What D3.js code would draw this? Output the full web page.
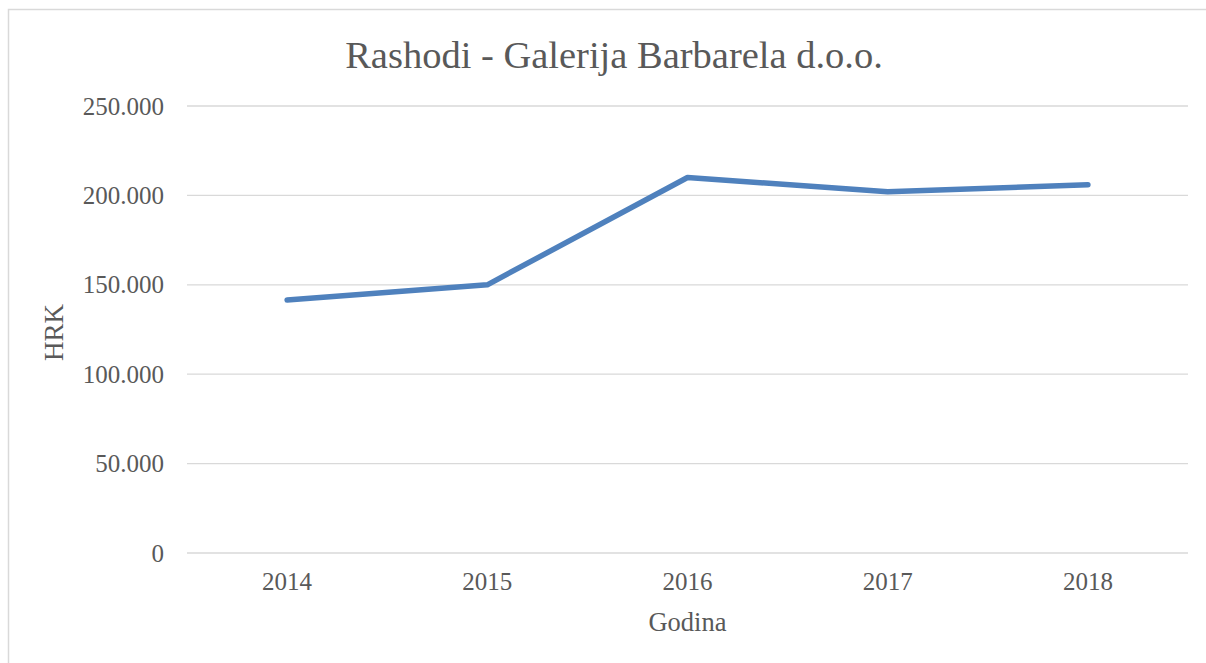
<!DOCTYPE html>
<html>
<head>
<meta charset="utf-8">
<script src="https://cdn.jsdelivr.net/npm/d3@7"></script>
<style>
  body { margin: 0; background: #fff; }
  text { font-family: "Liberation Serif", serif; fill: #595959; }
</style>
</head>
<body>
<svg width="1206" height="663"></svg>
<script>
// data
var years = ["2014", "2015", "2016", "2017", "2018"];
var rashodi = [141500, 150000, 210000, 202000, 206000];
var yTicks = [0, 50000, 100000, 150000, 200000, 250000];

var svg = d3.select("svg");
var margin = {top: 106, right: 18, bottom: 110, left: 187};
var width = 1206 - margin.left - margin.right,
    height = 663 - margin.top - margin.bottom;

// outer chart border (runs off the right/bottom of the picture)
svg.append("rect")
  .attr("x", 8.5).attr("y", 9.5)
  .attr("width", 1212).attr("height", 700)
  .style("fill", "none").style("stroke", "#d9d9d9").style("stroke-width", 1.5);

var x = d3.scaleBand().domain(years).range([0, width]);
var y = d3.scaleLinear().domain([0, 250000]).range([height, 0]);

var g = svg.append("g")
  .attr("transform", "translate(" + margin.left + "," + margin.top + ")");

//gridlines
g.selectAll(".grid")
  .data(yTicks)
  .enter().append("line")
  .attr("class", "grid")
  .attr("x1", 0).attr("x2", width)
  .attr("y1", function (d) { return y(d); })
  .attr("y2", function (d) { return y(d); })
  .style("stroke", "#d9d9d9").style("stroke-width", 1.3);

var fmt = function (d) { return d === 0 ? "0" : d3.format(",")(d).replace(/,/g, "."); };

//y-axis
var yAxis = g.append("g")
  .call(d3.axisLeft(y).tickValues(yTicks).tickFormat(fmt).tickSize(0).tickPadding(23));
yAxis.select("path").remove();
yAxis.selectAll("text").style("font-size", "25px").style("font-family", null).attr("fill", null);

//x-axis
var xAxis = g.append("g")
  .attr("transform", "translate(0," + height + ")")
  .call(d3.axisBottom(x).tickSize(0).tickPadding(19));
xAxis.select("path").remove();
xAxis.selectAll("text").style("font-size", "25px").style("font-family", null).attr("fill", null);

//the line
var line = d3.line()
  .x(function (d, i) { return x(years[i]) + x.bandwidth() / 2; })
  .y(function (d) { return y(d); });

g.append("path")
  .datum(rashodi)
  .attr("d", line)
  .style("fill", "none")
  .style("stroke", "#4f81bd")
  .style("stroke-width", 5.5)
  .style("stroke-linejoin", "round")
  .style("stroke-linecap", "round");

//title
svg.append("text")
  .attr("x", 614).attr("y", 68)
  .attr("text-anchor", "middle")
  .style("font-size", "38.5px")
  .text("Rashodi - Galerija Barbarela d.o.o.");

//axis titles
svg.append("text")
  .attr("transform", "translate(63," + (margin.top + height / 2 + 3) + ")rotate(-90)")
  .attr("text-anchor", "middle")
  .style("font-size", "27px")
  .text("HRK");

svg.append("text")
  .attr("x", margin.left + width / 2).attr("y", 631)
  .attr("text-anchor", "middle")
  .style("font-size", "26.5px")
  .text("Godina");
</script>
</body>
</html>
